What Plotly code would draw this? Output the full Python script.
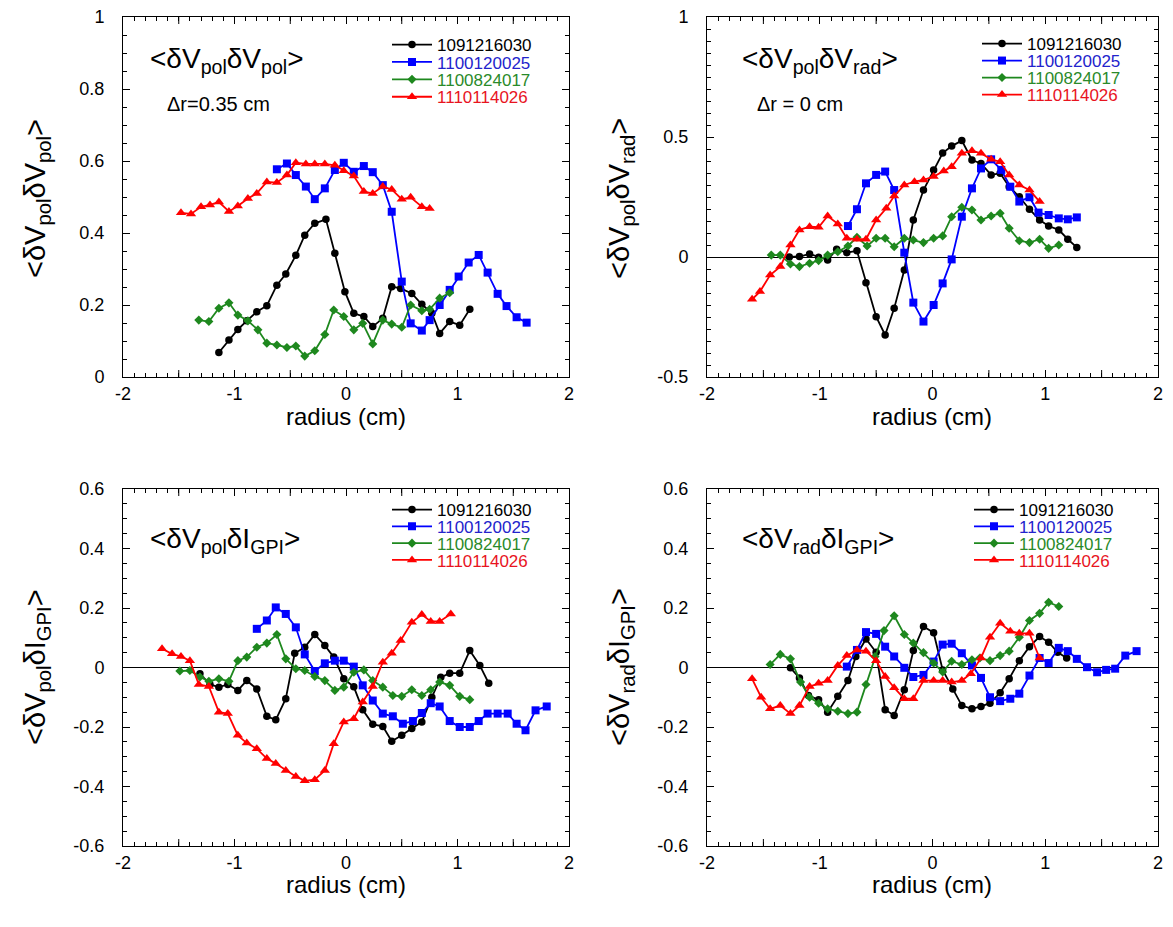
import plotly.graph_objects as go

W, H = 1173, 927
FONT = "Liberation Sans, Arial, Helvetica, sans-serif"

series_names = ["1091216030", "1100120025", "1100824017", "1110114026"]
line_colors = ["#000000", "#0000FF", "#1E881E", "#FF0000"]
text_colors = ["#000000", "#2323CC", "#2A8A2A", "#E8141E"]
symbols = ["circle", "square", "diamond", "triangle-up"]
sizes = [7.5, 8, 7, 9]

# ---------------- top-left: <dVpol dVpol> ----------------
tl_black_r = [-1.14,-1.05,-0.97,-0.89,-0.80,-0.71,-0.62,-0.54,-0.45,-0.37,-0.28,-0.18,-0.10,-0.01,0.07,0.16,0.24,0.33,0.41,0.49,0.59,0.68,0.77,0.84,0.93,1.02,1.11]
tl_black_v = [0.068,0.103,0.132,0.156,0.181,0.198,0.255,0.286,0.338,0.394,0.427,0.438,0.344,0.237,0.177,0.168,0.140,0.163,0.251,0.246,0.232,0.202,0.177,0.121,0.154,0.144,0.188]
tl_blue_r = [-0.62,-0.53,-0.45,-0.36,-0.28,-0.19,-0.10,-0.02,0.07,0.16,0.24,0.33,0.41,0.50,0.58,0.68,0.75,0.84,0.93,1.01,1.10,1.19,1.27,1.36,1.44,1.53,1.62]
tl_blue_v = [0.577,0.593,0.561,0.529,0.494,0.524,0.575,0.595,0.570,0.586,0.569,0.533,0.459,0.265,0.149,0.129,0.158,0.200,0.242,0.279,0.318,0.339,0.290,0.231,0.197,0.166,0.151]
tl_green_r = [-1.32,-1.23,-1.14,-1.05,-0.97,-0.88,-0.79,-0.71,-0.62,-0.53,-0.45,-0.37,-0.28,-0.19,-0.11,-0.02,0.07,0.15,0.24,0.33,0.41,0.50,0.58,0.68,0.75,0.84,0.93]
tl_green_v = [0.158,0.154,0.191,0.206,0.172,0.156,0.131,0.094,0.089,0.082,0.086,0.058,0.073,0.118,0.186,0.168,0.131,0.149,0.092,0.158,0.147,0.138,0.200,0.184,0.188,0.219,0.234]
tl_red_r = [-1.48,-1.39,-1.30,-1.22,-1.14,-1.05,-0.97,-0.88,-0.80,-0.71,-0.62,-0.53,-0.45,-0.36,-0.28,-0.19,-0.10,-0.02,0.07,0.16,0.24,0.33,0.41,0.50,0.58,0.68,0.75]
tl_red_v = [0.456,0.453,0.473,0.478,0.486,0.460,0.475,0.496,0.510,0.542,0.540,0.561,0.595,0.592,0.592,0.592,0.588,0.573,0.558,0.515,0.510,0.529,0.521,0.494,0.499,0.473,0.468]

# ---------------- top-right: <dVpol dVrad> ----------------
tr_black_r = [-1.27,-1.18,-1.09,-1.01,-0.93,-0.85,-0.76,-0.67,-0.59,-0.50,-0.42,-0.34,-0.25,-0.17,-0.08,0.01,0.09,0.17,0.26,0.35,0.43,0.52,0.60,0.68,0.77,0.86,0.95,1.03,1.12,1.20,1.28]
tr_black_v = [0.000,0.002,0.013,-0.001,-0.012,0.032,0.018,0.026,-0.107,-0.249,-0.325,-0.214,-0.054,0.154,0.279,0.363,0.433,0.462,0.485,0.404,0.390,0.342,0.349,0.293,0.251,0.199,0.154,0.129,0.113,0.074,0.040]
tr_blue_r = [-0.75,-0.67,-0.59,-0.50,-0.42,-0.34,-0.25,-0.17,-0.08,0.01,0.09,0.17,0.26,0.35,0.43,0.52,0.61,0.69,0.77,0.86,0.94,1.03,1.12,1.20,1.28]
tr_blue_v = [0.129,0.199,0.307,0.342,0.356,0.279,0.018,-0.190,-0.269,-0.200,-0.110,-0.010,0.168,0.286,0.369,0.407,0.363,0.293,0.231,0.249,0.185,0.175,0.161,0.157,0.165]
tr_green_r = [-1.43,-1.35,-1.26,-1.18,-1.09,-1.01,-0.93,-0.84,-0.75,-0.67,-0.58,-0.50,-0.42,-0.34,-0.25,-0.17,-0.08,0.01,0.09,0.17,0.26,0.35,0.43,0.52,0.60,0.68,0.77,0.86,0.95,1.03,1.12]
tr_green_v = [0.008,0.008,-0.029,-0.040,-0.026,-0.015,0.008,0.022,0.046,0.082,0.046,0.078,0.078,0.043,0.078,0.071,0.060,0.078,0.088,0.168,0.207,0.196,0.154,0.171,0.182,0.120,0.068,0.060,0.074,0.036,0.050]
tr_red_r = [-1.60,-1.53,-1.44,-1.35,-1.26,-1.18,-1.09,-1.01,-0.93,-0.84,-0.76,-0.67,-0.59,-0.50,-0.41,-0.34,-0.25,-0.16,-0.08,0.01,0.10,0.17,0.26,0.35,0.43,0.52,0.60,0.68,0.77,0.86,0.95]
tr_red_v = [-0.176,-0.144,-0.075,-0.040,0.050,0.113,0.126,0.124,0.171,0.138,0.078,0.074,0.074,0.154,0.203,0.254,0.300,0.314,0.321,0.335,0.358,0.376,0.432,0.443,0.432,0.407,0.397,0.342,0.300,0.279,0.231]

# ---------------- bottom-left: <dVpol dI_GPI> ----------------
bl_black_r = [-1.31,-1.22,-1.14,-1.06,-0.97,-0.89,-0.80,-0.71,-0.63,-0.54,-0.46,-0.37,-0.28,-0.19,-0.11,-0.02,0.07,0.15,0.24,0.33,0.41,0.50,0.59,0.68,0.77,0.85,0.93,1.02,1.11,1.20,1.28]
bl_black_v = [-0.021,-0.057,-0.066,-0.057,-0.077,-0.044,-0.072,-0.164,-0.176,-0.105,0.048,0.068,0.111,0.074,0.035,-0.038,-0.065,-0.142,-0.191,-0.198,-0.248,-0.228,-0.205,-0.183,-0.100,-0.033,-0.019,-0.019,0.057,0.007,-0.053]
bl_blue_r = [-0.80,-0.71,-0.63,-0.54,-0.45,-0.37,-0.28,-0.19,-0.10,-0.02,0.07,0.15,0.24,0.33,0.42,0.51,0.60,0.68,0.76,0.84,0.93,1.02,1.11,1.19,1.27,1.36,1.45,1.53,1.61,1.70,1.80]
bl_blue_v = [0.130,0.158,0.202,0.180,0.135,0.044,-0.012,0.014,0.023,0.023,0.003,-0.060,-0.111,-0.155,-0.164,-0.189,-0.180,-0.153,-0.120,-0.131,-0.180,-0.200,-0.200,-0.180,-0.155,-0.155,-0.155,-0.189,-0.211,-0.144,-0.131]
bl_green_r = [-1.49,-1.40,-1.31,-1.23,-1.14,-1.05,-0.97,-0.89,-0.80,-0.71,-0.62,-0.54,-0.45,-0.37,-0.28,-0.19,-0.10,-0.02,0.07,0.16,0.24,0.33,0.42,0.50,0.59,0.68,0.76,0.84,0.93,1.02,1.11]
bl_green_v = [-0.012,-0.010,-0.032,-0.046,-0.038,-0.046,0.023,0.035,0.068,0.082,0.111,0.029,-0.004,-0.010,-0.030,-0.044,-0.077,-0.066,-0.016,-0.008,-0.044,-0.066,-0.094,-0.097,-0.075,-0.094,-0.075,-0.049,-0.060,-0.097,-0.108]
bl_red_r = [-1.65,-1.56,-1.48,-1.40,-1.32,-1.23,-1.14,-1.06,-0.97,-0.89,-0.80,-0.71,-0.63,-0.54,-0.45,-0.37,-0.28,-0.19,-0.11,-0.02,0.07,0.15,0.24,0.33,0.41,0.49,0.59,0.68,0.76,0.84,0.94]
bl_red_v = [0.063,0.046,0.037,0.023,-0.057,-0.064,-0.150,-0.155,-0.228,-0.254,-0.273,-0.306,-0.323,-0.346,-0.366,-0.381,-0.377,-0.346,-0.256,-0.183,-0.172,-0.116,-0.064,0.018,0.048,0.091,0.152,0.178,0.155,0.155,0.180]

# ---------------- bottom-right: <dVrad dI_GPI> ----------------
br_black_r = [-1.26,-1.18,-1.10,-1.01,-0.93,-0.84,-0.75,-0.68,-0.59,-0.50,-0.42,-0.34,-0.25,-0.17,-0.08,0.01,0.09,0.18,0.26,0.35,0.43,0.51,0.60,0.68,0.77,0.86,0.95,1.03,1.11,1.19]
br_black_v = [-0.001,-0.035,-0.094,-0.108,-0.150,-0.097,-0.044,0.037,0.096,0.051,-0.142,-0.161,-0.075,0.057,0.138,0.117,-0.008,-0.072,-0.128,-0.139,-0.131,-0.120,-0.085,-0.038,0.023,0.070,0.104,0.085,0.051,0.032]
br_blue_r = [-0.76,-0.67,-0.59,-0.50,-0.42,-0.34,-0.25,-0.17,-0.08,0.01,0.09,0.17,0.26,0.35,0.43,0.51,0.60,0.69,0.77,0.86,0.95,1.03,1.12,1.20,1.28,1.37,1.46,1.54,1.62,1.71,1.81]
br_blue_v = [0.003,0.059,0.119,0.113,0.070,0.037,-0.001,-0.032,-0.025,0.020,0.077,0.080,0.048,0.007,-0.035,-0.100,-0.113,-0.105,-0.088,-0.027,0.032,0.015,0.066,0.055,0.029,0.001,-0.016,-0.008,-0.004,0.040,0.055]
br_green_r = [-1.44,-1.35,-1.26,-1.17,-1.09,-1.01,-0.93,-0.84,-0.75,-0.67,-0.59,-0.51,-0.43,-0.34,-0.25,-0.17,-0.08,0.01,0.09,0.17,0.26,0.35,0.42,0.51,0.60,0.68,0.77,0.86,0.95,1.03,1.12]
br_green_v = [0.010,0.044,0.029,-0.049,-0.100,-0.120,-0.139,-0.147,-0.155,-0.150,-0.057,0.037,0.124,0.174,0.111,0.082,0.050,0.015,-0.015,0.021,0.010,0.026,0.032,0.023,0.040,0.055,0.102,0.158,0.182,0.219,0.205]
br_red_r = [-1.60,-1.52,-1.44,-1.35,-1.26,-1.18,-1.09,-1.01,-0.93,-0.84,-0.76,-0.67,-0.59,-0.50,-0.42,-0.34,-0.25,-0.17,-0.08,0.01,0.09,0.17,0.26,0.34,0.43,0.51,0.60,0.69,0.77,0.86,0.95]
br_red_v = [-0.038,-0.100,-0.139,-0.128,-0.155,-0.128,-0.064,-0.053,-0.044,0.007,0.040,0.059,0.055,0.023,-0.030,-0.068,-0.105,-0.105,-0.044,-0.044,-0.044,-0.049,-0.044,-0.021,0.032,0.102,0.149,0.122,0.115,0.115,0.032]

# axis tick labels
x_tickvals = [-2, -1, 0, 1, 2]
x_ticktext = ["-2", "-1", "0", "1", "2"]
x_half_tickvals = [-1.5, -0.5, 0.5, 1.5]
tl_y_tickvals = [0, 0.2, 0.4, 0.6, 0.8, 1]
tl_y_ticktext = ["0", "0.2", "0.4", "0.6", "0.8", "1"]
tr_y_tickvals = [-0.5, 0, 0.5, 1]
tr_y_ticktext = ["-0.5", "0", "0.5", "1"]
b_y_tickvals = [-0.6, -0.4, -0.2, 0, 0.2, 0.4, 0.6]
b_y_ticktext = ["-0.6", "-0.4", "-0.2", "0", "0.2", "0.4", "0.6"]

panels = [
    [(tl_black_r, tl_black_v), (tl_blue_r, tl_blue_v), (tl_green_r, tl_green_v), (tl_red_r, tl_red_v)],
    [(tr_black_r, tr_black_v), (tr_blue_r, tr_blue_v), (tr_green_r, tr_green_v), (tr_red_r, tr_red_v)],
    [(bl_black_r, bl_black_v), (bl_blue_r, bl_blue_v), (bl_green_r, bl_green_v), (bl_red_r, bl_red_v)],
    [(br_black_r, br_black_v), (br_blue_r, br_blue_v), (br_green_r, br_green_v), (br_red_r, br_red_v)],
]

# panel frames in pixels (left, right, top, bottom)
frames = [(123, 569, 17, 377), (707, 1158, 17, 377), (123, 569, 489, 846), (707, 1158, 489, 846)]
yranges = [[0, 1], [-0.5, 1], [-0.6, 0.6], [-0.6, 0.6]]
yticks = [(tl_y_tickvals, tl_y_ticktext), (tr_y_tickvals, tr_y_ticktext), (b_y_tickvals, b_y_ticktext), (b_y_tickvals, b_y_ticktext)]
zerolines = [False, True, True, True]
# legend placement: (text start px, first-row centre px, row step px)
legend_pos = [(440, 45, 17.4), (1030, 44, 17.0), (440, 510, 16.8), (1022, 510, 16.8)]

fig = go.Figure()
layout = dict(width=W, height=H, margin=dict(l=0, r=0, t=0, b=0),
              paper_bgcolor="white", plot_bgcolor="white",
              font=dict(family=FONT, color="black", size=18), showlegend=True)

shapes = []
legend_idx = 0
for pi, series in enumerate(panels):
    n = "" if pi == 0 else str(pi + 1)
    l, r, t, b = frames[pi]
    layout["xaxis" + n] = dict(
        domain=[l / W, r / W], anchor="y" + n, range=[-2, 2],
        tickmode="array", tickvals=x_tickvals, ticktext=x_ticktext,
        ticks="inside", ticklen=7, tickwidth=1, tickcolor="black",
        minor=dict(dtick=0.1, tick0=0, ticks="inside", ticklen=4, tickcolor="black", showgrid=False),
        showline=True, linecolor="black", linewidth=1, mirror="ticks",
        showgrid=False, zeroline=False, tickfont=dict(size=18, family=FONT),
        ticklabelstandoff=0, automargin=False, fixedrange=True)
    # longer half-unit ticks on bottom and top edges (axis-referenced, length in px)
    for hv in x_half_tickvals:
        for yref_end, sign in ((0, 1), (1, -1)):
            shapes.append(dict(type="line", xref="x" + n, yref="y" + n + " domain",
                               x0=hv, x1=hv, y0=yref_end, y1=yref_end + sign * 7 / (b - t),
                               line=dict(color="black", width=1)))
    tv, tt = yticks[pi]
    layout["yaxis" + n] = dict(
        domain=[1 - b / H, 1 - t / H], anchor="x" + n, range=yranges[pi],
        tickmode="array", tickvals=tv, ticktext=tt,
        ticks="inside", ticklen=7, tickwidth=1, tickcolor="black",
        minor=dict(dtick=0.05, tick0=0, ticks="inside", ticklen=4, tickcolor="black", showgrid=False),
        showline=True, linecolor="black", linewidth=1, mirror="ticks",
        showgrid=False, zeroline=zerolines[pi], zerolinecolor="black", zerolinewidth=1,
        tickfont=dict(size=18, family=FONT), ticklabelstandoff=14, automargin=False, fixedrange=True)
    tx0, ty0, step = legend_pos[pi]
    for si, (rr, vv) in enumerate(series):
        legend_idx += 1
        lg = "legend" if legend_idx == 1 else "legend" + str(legend_idx)
        fig.add_trace(go.Scatter(
            x=rr, y=vv, mode="lines+markers", name=series_names[si],
            xaxis="x" + n, yaxis="y" + n, legend=lg,
            line=dict(color=line_colors[si], width=1.8),
            marker=dict(symbol=symbols[si], size=sizes[si], color=line_colors[si],
                        line=dict(width=0)),
        ))
        yc = ty0 + si * step
        layout[lg] = dict(x=(tx0 - 53) / W, y=1 - yc / H, xanchor="left", yanchor="middle",
                          bgcolor="rgba(0,0,0,0)", borderwidth=0, itemwidth=40,
                          font=dict(size=17, color=text_colors[si], family=FONT),
                          tracegroupgap=0, itemclick=False, itemdoubleclick=False)

ann = []
def pa(x, y, text, size, **kw):
    d = dict(x=x / W, y=1 - y / H, xref="paper", yref="paper", text=text, showarrow=False,
             font=dict(size=size, family=FONT, color="black"))
    d.update(kw)
    ann.append(d)

# in-panel titles
pa(148, 60, "&lt;δV<sub>pol</sub>δV<sub>pol</sub>&gt;", 28, xanchor="left", yanchor="middle")
pa(165, 104, "Δr=0.35 cm", 20, xanchor="left", yanchor="middle")
pa(740, 60, "&lt;δV<sub>pol</sub>δV<sub>rad</sub>&gt;", 28, xanchor="left", yanchor="middle")
pa(755, 104, "Δr = 0 cm", 20, xanchor="left", yanchor="middle")
pa(148, 540, "&lt;δV<sub>pol</sub>δI<sub>GPI</sub>&gt;", 28, xanchor="left", yanchor="middle")
pa(740, 540, "&lt;δV<sub>rad</sub>δI<sub>GPI</sub>&gt;", 28, xanchor="left", yanchor="middle")

# axis titles
for (xc, yc) in [(346, 416), (932, 416), (346, 884), (932, 884)]:
    pa(xc, yc, "radius (cm)", 24, xanchor="center", yanchor="middle")
ytitles = ["&lt;δV<sub>pol</sub>δV<sub>pol</sub>&gt;", "&lt;δV<sub>pol</sub>δV<sub>rad</sub>&gt;",
           "&lt;δV<sub>pol</sub>δI<sub>GPI</sub>&gt;", "&lt;δV<sub>rad</sub>δI<sub>GPI</sub>&gt;"]
for (xc, yc), tx in zip([(37, 199), (621, 199), (37, 667), (621, 667)], ytitles):
    pa(xc, yc, tx, 29, xanchor="center", yanchor="middle", textangle=-90)

layout["annotations"] = ann
layout["shapes"] = shapes
fig.update_layout(**layout)
fig.write_html("out.html", config={"displayModeBar": False})
